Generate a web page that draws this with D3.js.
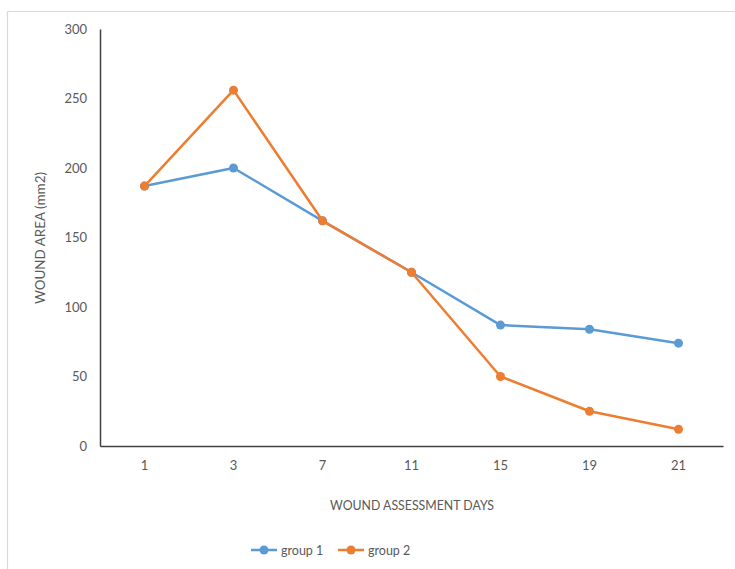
<!DOCTYPE html>
<html>
<head>
<meta charset="utf-8">
<script src="https://cdn.jsdelivr.net/npm/d3@7"></script>
<style>
  html, body { margin: 0; padding: 0; background: #fff; }
  svg { display: block; }
  text { font-family: Lato, "Open Sans", sans-serif; fill: #595959; }
</style>
</head>
<body>
<svg id="chart" width="735" height="569"></svg>
<script>
const days = ["1", "3", "7", "11", "15", "19", "21"];
const group1 = [187, 200, 162, 125, 87, 84, 74];
const group2 = [187, 256, 162, 125, 50, 25, 12];
const yTicks = [0, 50, 100, 150, 200, 250, 300];
const seriesNames = ["group 1", "group 2"];
const seriesColors = ["#5B9BD5", "#ED7D31"];

const svg = d3.select("#chart");
const W = 735, H = 569;

// outer frame (chart area border)
svg.append("line").attr("x1", 7.5).attr("x2", W).attr("y1", 11.5).attr("y2", 11.5)
  .attr("stroke", "#d9d9d9").attr("stroke-width", 1.2);
svg.append("line").attr("x1", 7.5).attr("x2", 7.5).attr("y1", 11.5).attr("y2", H)
  .attr("stroke", "#d9d9d9").attr("stroke-width", 1.2);

const x = d3.scaleBand().domain(days).range([100, 723]);
const y = d3.scaleLinear().domain([0, 300]).range([446, 29]);

// y axis
const yAxis = svg.append("g").attr("transform", "translate(100,0)")
  .call(d3.axisLeft(y).tickValues(yTicks).tickSize(0).tickPadding(13));
yAxis.select(".domain").attr("stroke", "#404040").attr("stroke-width", 1.5);
yAxis.selectAll("text").style("font-size", "13px").attr("fill", "#595959");

// x axis
const xAxis = svg.append("g").attr("transform", "translate(0,446)")
  .call(d3.axisBottom(x).tickSize(0).tickPadding(15));
xAxis.select(".domain").attr("stroke", "#404040").attr("stroke-width", 1.5);
xAxis.selectAll("text").style("font-size", "13px").attr("fill", "#595959");

// axis titles
svg.append("text").attr("x", 412).attr("y", 510).attr("text-anchor", "middle")
  .style("font-size", "13px").attr("textLength", 164).attr("lengthAdjust", "spacingAndGlyphs")
  .text("WOUND ASSESSMENT DAYS");
svg.append("text").attr("transform", "translate(45,238) rotate(-90)")
  .attr("text-anchor", "middle").style("font-size", "13px")
  .attr("textLength", 132).attr("lengthAdjust", "spacingAndGlyphs")
  .text("WOUND AREA (mm2)");

// series
const line = d3.line().x((d, i) => x(days[i]) + x.bandwidth() / 2).y(d => y(d));
[group1, group2].forEach((vals, si) => {
  svg.append("path").datum(vals).attr("d", line).attr("fill", "none")
    .attr("stroke", seriesColors[si]).attr("stroke-width", 2.5)
    .attr("stroke-linejoin", "round");
  svg.selectAll(null).data(vals).enter().append("circle")
    .attr("cx", (d, i) => x(days[i]) + x.bandwidth() / 2)
    .attr("cy", d => y(d)).attr("r", 4.5).attr("fill", seriesColors[si]);
});

// legend
const legendX = [251, 338];
seriesNames.forEach((name, i) => {
  const g = svg.append("g").attr("transform", `translate(${legendX[i]},550)`);
  g.append("line").attr("x1", 0).attr("x2", 26).attr("stroke", seriesColors[i]).attr("stroke-width", 2.5);
  g.append("circle").attr("cx", 13).attr("r", 4.5).attr("fill", seriesColors[i]);
  g.append("text").attr("x", 30).attr("y", 4.5).style("font-size", "12.5px").text(name);
});
</script>
</body>
</html>
